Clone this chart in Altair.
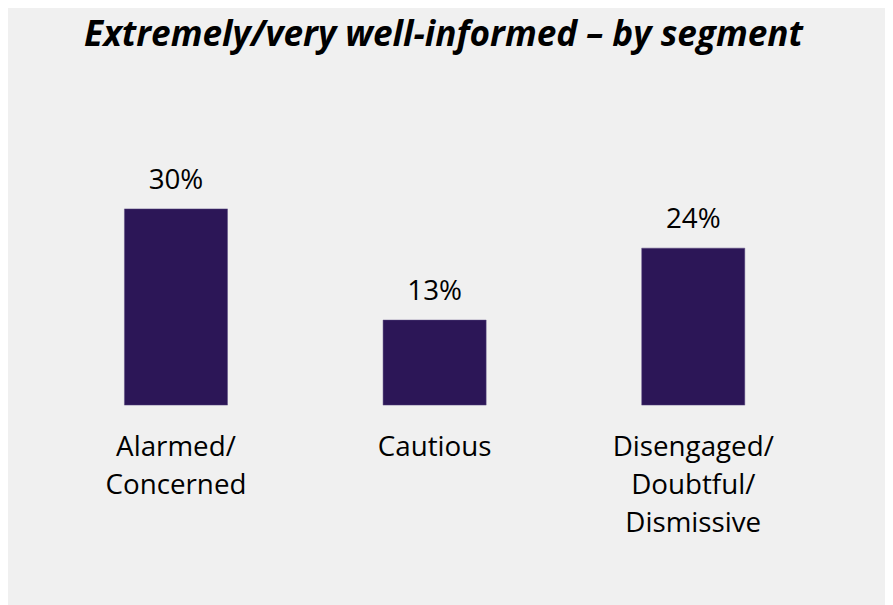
import altair as alt
import pandas as pd

segments = ["Alarmed/\nConcerned", "Cautious", "Disengaged/\nDoubtful/\nDismissive"]
values = [30, 13, 24]
labels = ["30%", "13%", "24%"]

df = pd.DataFrame({"segment": segments, "value": values, "label": labels})

x = alt.X("segment:N", sort=None, title=None,
          scale=alt.Scale(paddingInner=0.6015, paddingOuter=0.30075),
          axis=alt.Axis(labelAngle=0, domain=False, ticks=False, labelPadding=51,
                        labelExpr="split(datum.label, '\\n')",
                        labelFont="Open Sans", labelFontSize=28, labelColor="#000000",
                        labelLineHeight=38.5, labelBaseline="alphabetic"))
y = alt.Y("value:Q", scale=alt.Scale(domain=[0, 40]), axis=None)

bars = alt.Chart(df).mark_bar(color="#2c1657", stroke="#5a4a80", strokeWidth=0.5).encode(x=x, y=y)
text = alt.Chart(df).mark_text(dy=-20, baseline="alphabetic", font="Open Sans", fontSize=28,
                               color="#000000").encode(x=x, y=y, text="label:N")

chart = (bars + text).properties(
    width=783, height=264,
    padding={"left": 39, "top": 134, "right": 63, "bottom": 199},
    autosize=alt.AutoSizeParams(type="none"),
    background="#f0f0f0",
    title=alt.TitleParams("Extremely/very well-informed – by segment", anchor="middle",
                          font="Open Sans", fontSize=35.5, fontWeight="bold", fontStyle="italic",
                          color="#000000", offset=91, dx=9),
).configure_view(stroke=None)

chart.save("out.html", embed_options={"renderer": "svg", "actions": False})
